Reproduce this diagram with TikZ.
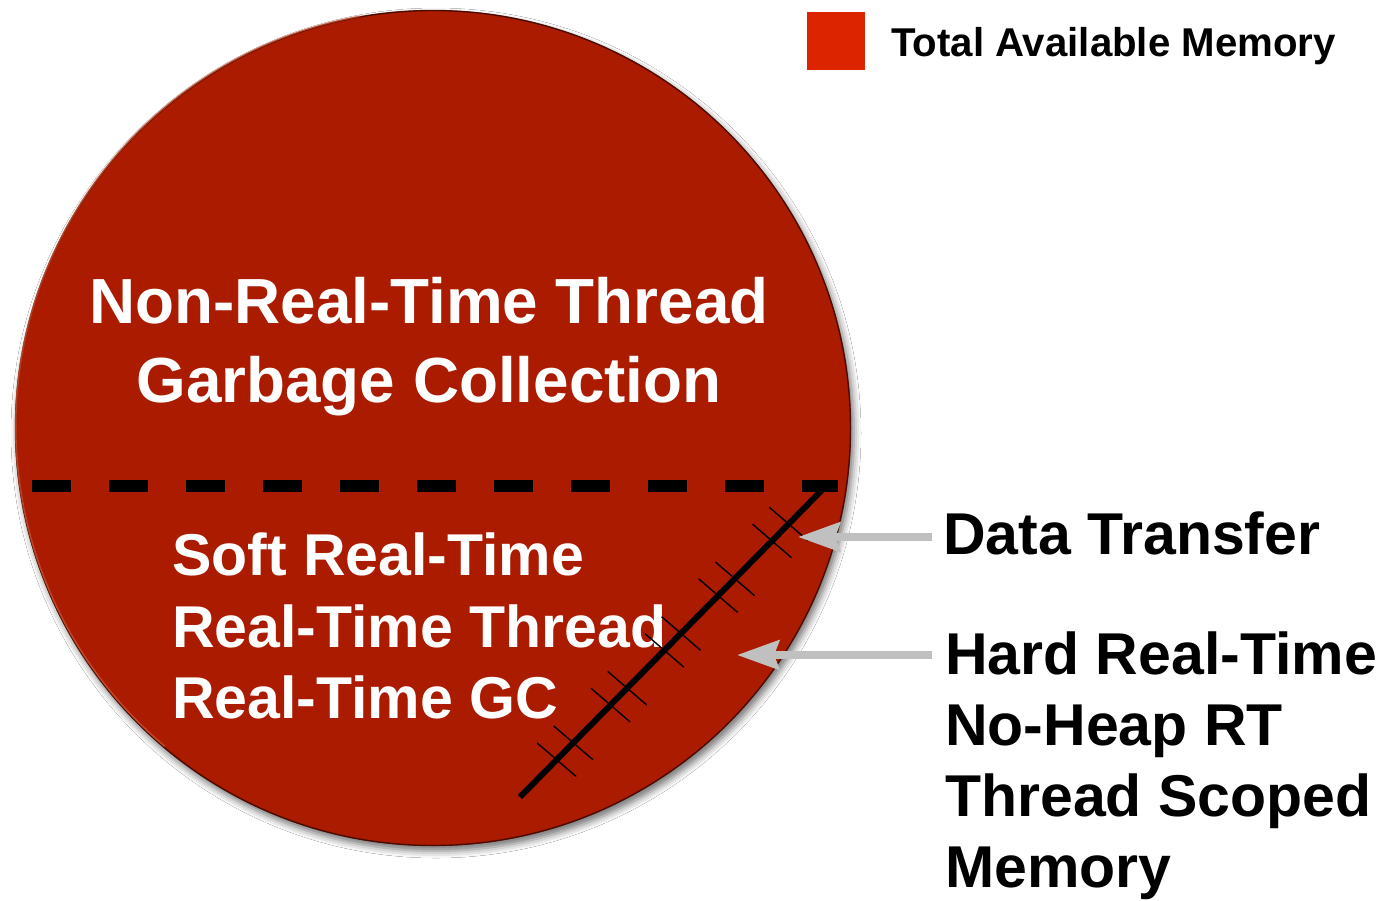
\documentclass[tikz,border=0pt]{standalone}
\usepackage{fontspec}
\setmainfont{Liberation Sans}
\usetikzlibrary{arrows.meta,shadows.blur}
\definecolor{memred}{HTML}{AA1B00}
\definecolor{legendred}{HTML}{DD2400}
\definecolor{rimdark}{HTML}{3A0800}
\definecolor{rimlight}{HTML}{D45A36}
\definecolor{pointergray}{HTML}{C0C0C0}
\tikzset{
  pool/.style={circle, inner sep=0pt, minimum size=836pt, fill=memred,
    blur shadow={shadow xshift=3pt, shadow yshift=-5pt, shadow blur radius=7pt, shadow opacity=55}},
  intext/.style={text=white, inner sep=0pt, font=\bfseries\fontsize{59}{71.5}\selectfont},
  bigtext/.style={text=white, inner sep=0pt, align=center, font=\bfseries\fontsize{63.8}{79}\selectfont},
  outtext/.style={text=black, inner sep=0pt, align=left, font=\bfseries\fontsize{59}{71}\selectfont},
  keytext/.style={text=black, inner sep=0pt, font=\bfseries\fontsize{40.2}{47}\selectfont},
  split/.style={black, line width=11.5pt, dash pattern=on 38.5pt off 38.5pt},
  barrier/.style={black, line width=6pt},
  tick/.style={black, line width=1.4pt},
  pointer/.style={pointergray, line width=8pt,
    -{Stealth[length=42pt, width=29pt, inset=5pt]}},
}
\begin{document}
\begin{tikzpicture}[x=1pt, y=-1pt]
  % canvas
  \fill[white] (0,0) rectangle (1390,900);
  \useasboundingbox (0,0) rectangle (1390,900);

  % memory pool
  \node[pool] (mem) at (433,428) {};
  \draw[rimdark, opacity=0.85, line width=1.4pt] (mem.center) circle[radius=417.5pt];
  \draw[rimlight, opacity=0.7, line width=1.6pt] (mem.100) arc[start angle=100, end angle=230, radius=417pt];

  % legend
  \node[fill=legendred, inner sep=0pt, minimum size=58pt, anchor=north west] (lgbox) at (807,12) {};
  \node[keytext, anchor=north west] (lgtext) at (891,27.5) {Total Available Memory};

  % region labels
  \node[bigtext, anchor=north] (nrt) at (429,277.5) {Non-Real-Time Thread\\Garbage Collection};
  \node[intext, align=left, anchor=north west] (srt) at (172,533) {Soft Real-Time\\Real-Time Thread\\Real-Time GC};

  % boundary between heap regions
  \coordinate (splitL) at (32,486);
  \coordinate (splitR) at (838,486);
  \draw[split] (splitL) -- (splitR);

  % hard real-time boundary with its crossings
  \coordinate (barTop) at (824,488);
  \coordinate (barBot) at (520,797);
  \foreach \cx/\cy in {780.4/532.5, 726.55/587.2, 672.7/641.9, 618.85/696.6, 565/751.3}{
    \draw[tick] (\cx+8.4-19.5, \cy-8.4-16.8) -- (\cx+8.4+19.5, \cy-8.4+16.8);
    \draw[tick] (\cx-8.4-19.5, \cy+8.4-16.8) -- (\cx-8.4+19.5, \cy+8.4+16.8);
  }
  \draw[barrier] (barBot) -- (barTop);

  % outside labels and pointers
  \node[outtext, anchor=north west] (dt) at (943,512) {Data Transfer};
  \node[outtext, anchor=north west] (hrt) at (945,632) {Hard Real-Time\\No-Heap RT\\Thread Scoped\\Memory};
  \coordinate (dtFrom) at (932,537);
  \coordinate (dtTip) at (798,537);
  \coordinate (hrtFrom) at (932,655);
  \coordinate (hrtTip) at (737,655);
  \draw[pointer] (dtFrom) -- (dtTip);
  \draw[pointer] (hrtFrom) -- (hrtTip);
\end{tikzpicture}
\end{document}
